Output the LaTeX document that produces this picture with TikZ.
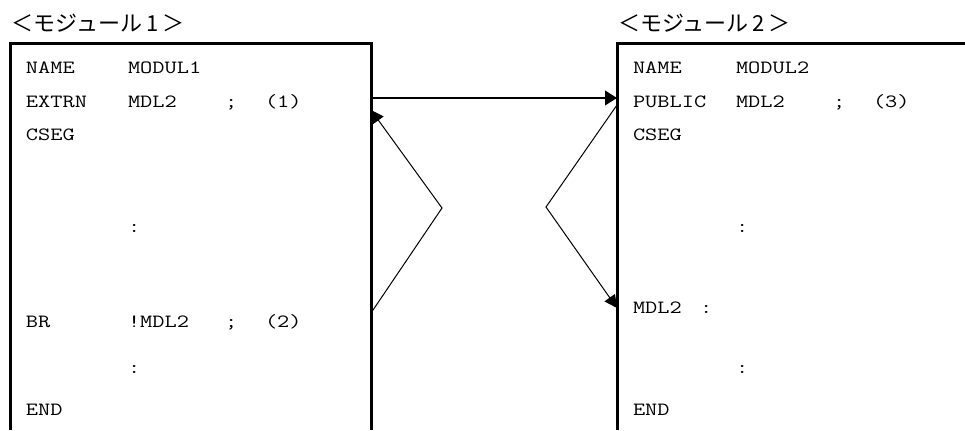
\documentclass[tikz,border=0pt]{standalone}
\usepackage{fontspec}
\setmonofont{Latin Modern Mono}[FakeStretch=1.27]
\newfontfamily\jpfont{Noto Sans CJK JP}
\usetikzlibrary{arrows.meta}

\begin{document}
\begin{tikzpicture}[
    x=0.75pt, y=-0.75pt,
    every node/.style={inner sep=0pt, outer sep=0pt},
    code/.style={anchor=base west, font=\ttfamily\fontsize{14}{16}\selectfont},
    ttl/.style={anchor=base west, font=\jpfont\fontsize{16.5}{18}\selectfont},
    frm/.style={line width=2.25pt},
    arr/.style={-{Triangle[length=9pt, width=11pt]}, line width=1.5pt},
    jmp/.style={-{Triangle[length=9.5pt, width=9.5pt]}, line width=0.75pt},
]
\useasboundingbox (0,0) rectangle (965,430);

% ================================================================ module 1
\node[ttl] (t1) at (12, 31) {＜モジュール\hspace{3pt}1\hspace{3pt}＞};
\coordinate (a0) at (10, 430);
\coordinate (a1) at (10, 43);
\coordinate (a2) at (371, 43);
\coordinate (a3) at (371, 430);
\draw[frm] (a0) -- (a1) -- (a2) -- (a3);
\foreach \n/\x/\y/\t in {a/26/73/NAME, b/128/73/MODUL1,
    c/26/107/EXTRN, d/128/107/MDL2, e/225/107/;, f/265/107/(1),
    g/26/140/CSEG, h/128/232/:,
    i/26/327/BR, j/128/327/!MDL2, k/225/327/;, l/265/327/(2),
    m/128/373/:, n/26/415/END}{
    \node[code] (l\n) at (\x, \y) {\t};
}

% ================================================================ module 2
\node[ttl] (t2) at (618, 31) {＜モジュール\hspace{3pt}2\hspace{3pt}＞};
\coordinate (b0) at (617, 430);
\coordinate (b1) at (617, 43);
\coordinate (b2) at (965, 43);
\draw[frm] (b0) -- (b1) -- (b2);
\foreach \n/\x/\y/\t in {a/633/73/NAME, b/736/73/MODUL2,
    c/633/107/PUBLIC, d/736/107/MDL2, e/833/107/;, f/873/107/(3),
    g/633/140/CSEG, h/736/232/:,
    i/633/313/MDL2, j/700/313/:,
    m/736/373/:, n/633/415/END}{
    \node[code] (r\n) at (\x, \y) {\t};
}

% ================================================================ links
\coordinate (p1) at (371, 98);
\coordinate (q1) at (617, 98);
\draw[arr] (p1) -- (q1);

% the branch goes out and the symbol comes back
\coordinate (p2) at (371, 313);
\coordinate (k1) at (442, 208);
\coordinate (p3) at (371, 110);
\draw[jmp] (p2) -- (k1) -- (p3);

\coordinate (q2) at (617, 105);
\coordinate (k2) at (546, 207);
\coordinate (q3) at (617, 308);
\draw[jmp] (q2) -- (k2) -- (q3);
\end{tikzpicture}
\end{document}
